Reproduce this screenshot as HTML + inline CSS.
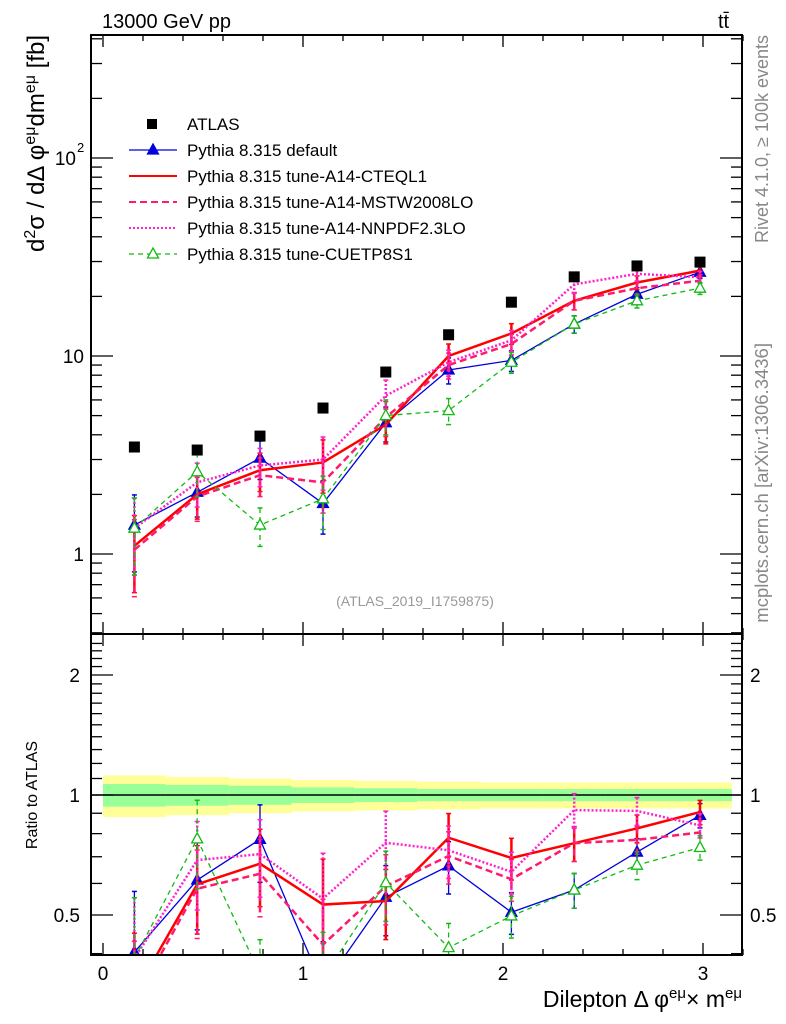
<!DOCTYPE html>
<html><head><meta charset="utf-8"><style>
html,body{margin:0;background:#fff;overflow:hidden;width:786px;height:1024px}
svg{display:block}
text{font-family:"Liberation Sans",sans-serif}
</style></head><body>
<svg id="c" width="786" height="1024" xmlns="http://www.w3.org/2000/svg"></svg>
<script>
const binCenters=[0.157,0.471,0.785,1.100,1.414,1.728,2.042,2.356,2.670,2.985];
const atlas=[3.47,3.35,3.94,5.46,8.3,12.8,18.7,25.1,28.5,29.8];
const bandYellow=[0.12,0.11,0.1,0.09,0.085,0.08,0.075,0.075,0.075,0.075];
const bandGreen=[0.065,0.06,0.055,0.045,0.04,0.035,0.035,0.035,0.035,0.035];
const sDefault=[1.4,2.05,3.05,1.8,4.6,8.5,9.5,14.5,20.5,26.5];
const sCteq=[1.1,2.0,2.65,2.9,4.5,10.0,13.0,19.0,23.5,27.0];
const sMstw=[1.05,1.95,2.5,2.3,4.9,9.0,11.5,19.0,22.0,24.0];
const sNnpdf=[1.35,2.3,2.8,3.0,6.3,9.3,12.0,23.0,26.0,25.0];
const sCuetp=[1.35,2.6,1.4,1.9,5.0,5.3,9.3,14.5,19.0,22.0];
const relErr=[0.42,0.25,0.22,0.3,0.2,0.15,0.12,0.1,0.08,0.07];
const yTicksMain=[1,10,100];
const yTicksRatio=[0.5,1,2];
const xTicks=[0,1,2,3];

const svg=document.getElementById('c');
const NS='http://www.w3.org/2000/svg';
const L=91,R=742,T=35,M=634,B=955;
const X=v=>103+200*v;
const Y=v=>554-198*Math.log10(v);
const YR=v=>795-120*Math.log2(v);
function el(tag,attrs,parent){const e=document.createElementNS(NS,tag);for(const k in attrs)e.setAttribute(k,attrs[k]);(parent||svg).appendChild(e);return e;}
function txt(s,attrs,parent){const e=el('text',attrs,parent);e.textContent=s;return e;}

const defs=el('defs',{});
const c1=el('clipPath',{id:'cm'},defs);el('rect',{x:L,y:T,width:R-L,height:M-T},c1);
const c2=el('clipPath',{id:'cr'},defs);el('rect',{x:L,y:M,width:R-L,height:B-M},c2);

const gBand=el('g',{'clip-path':'url(#cr)'});


const bw=Math.PI/10;
binCenters.forEach((c,i)=>{
  const x0=X(i*bw),x1=X((i+1)*bw);
  const ry=el('rect',{x:x0,y:YR(1+bandYellow[i]),width:x1-x0+0.5,height:YR(1-bandYellow[i])-YR(1+bandYellow[i]),fill:'#ffff99'},gBand);
  
  
  const rg=el('rect',{x:x0,y:YR(1+bandGreen[i]),width:x1-x0+0.5,height:YR(1-bandGreen[i])-YR(1+bandGreen[i]),fill:'#99ff99'},gBand);
  
  
});
const one=el('line',{x1:L,x2:R,y1:YR(1),y2:YR(1),stroke:'#000','stroke-width':1.5});



const series=[
 {name:'default',vals:sDefault,col:'#0000dd',w:1.3,dash:'',mk:'tri-fill'},
 {name:'cteql1',vals:sCteq,col:'#ff0000',w:2.5,dash:'',mk:''},
 {name:'mstw2008lo',vals:sMstw,col:'#ff1a6e',w:2.5,dash:'7,4',mk:''},
 {name:'nnpdf23lo',vals:sNnpdf,col:'#ff22cc',w:2.5,dash:'2,2',mk:''},
 {name:'cuetp8s1',vals:sCuetp,col:'#11bb11',w:1.3,dash:'5,4',mk:'tri-open'}
];
function tri(g,x,y,col,fill){el('path',{d:`M${x},${y-6}L${x+5.5},${y+4}L${x-5.5},${y+4}Z`,fill:fill?col:'#fff',stroke:col,'stroke-width':1.3},g);}

function drawSeries(s,clip,ymap,ratio){
  const g=el('g',{'clip-path':`url(#${clip})`});
  
  
  const vals=s.vals.map((v,i)=>ratio?v/atlas[i]:v);
  vals.forEach((v,i)=>{
    const e=relErr[i];
    el('line',{x1:X(binCenters[i]),x2:X(binCenters[i]),y1:ymap(v*(1+e)),y2:ymap(v*(1-e)),stroke:s.col,'stroke-width':s.w>2?2.5:1.3,'stroke-dasharray':s.dash},g);
    [v*(1+e),v*(1-e)].forEach(yy=>el('line',{x1:X(binCenters[i])-2.5,x2:X(binCenters[i])+2.5,y1:ymap(yy),y2:ymap(yy),stroke:s.col,'stroke-width':1.5},g));
  });
  el('polyline',{points:vals.map((v,i)=>X(binCenters[i])+','+ymap(v)).join(' '),fill:'none',stroke:s.col,'stroke-width':s.w,'stroke-dasharray':s.dash},g);
  if(s.mk)vals.forEach((v,i)=>tri(g,X(binCenters[i]),ymap(v),s.col,s.mk==='tri-fill'));
}
series.forEach(s=>{drawSeries(s,'cm',Y,false);drawSeries(s,'cr',YR,true);});

const ga=el('g',{'clip-path':'url(#cm)'});


atlas.forEach((v,i)=>el('rect',{x:X(binCenters[i])-5.5,y:Y(v)-5.5,width:11,height:11,fill:'#000'},ga));

[[T,M],[M,B]].forEach(([a,b])=>{const f=el('rect',{x:L,y:a,width:R-L,height:b-a,fill:'none',stroke:'#000','stroke-width':2});
});

const gx=el('g',{stroke:'#000','stroke-width':1.3});

for(let v=0;v<=3.2001;v+=0.2){const maj=Math.abs(v-Math.round(v))<1e-6;const l=maj?12:6;
 [T,M].forEach(y0=>el('line',{x1:X(v),x2:X(v),y1:y0,y2:y0+l},gx));
 [M,B].forEach(y0=>el('line',{x1:X(v),x2:X(v),y1:y0,y2:y0-l},gx));}
xTicks.forEach(v=>{const t=txt(String(v),{x:X(v),y:980,'font-size':19,'text-anchor':'middle'});
});

const gy=el('g',{stroke:'#000','stroke-width':1.3});

for(let d=-1;d<=2;d++)for(let m=1;m<=9;m++){const v=m*Math.pow(10,d);const y=Y(v);if(y<T||y>M)continue;const l=m===1?22:11;
 el('line',{x1:L,x2:L+l,y1:y,y2:y},gy);el('line',{x1:R,x2:R-l,y1:y,y2:y},gy);}
const lab1=txt('1',{x:84,y:561,'font-size':19,'text-anchor':'end'});
const lab10=txt('10',{x:84,y:363,'font-size':19,'text-anchor':'end'});
const lab100=txt('10',{x:76,y:165,'font-size':19,'text-anchor':'end'});
txt('2',{x:77,y:152,'font-size':13});

for(let v=0.4;v<=2.5;v+=0.1){const y=YR(v);if(y<M||y>B)continue;const maj=[0.5,1,2].some(t=>Math.abs(t-v)<1e-6);const l=maj?22:11;
 el('line',{x1:L,x2:L+l,y1:y,y2:y,stroke:'#000','stroke-width':1.3});el('line',{x1:R,x2:R-l,y1:y,y2:y,stroke:'#000','stroke-width':1.3});}
yTicksRatio.forEach(v=>{const s=v===0.5?'0.5':String(v);
 const a=txt(s,{x:80,y:YR(v)+7,'font-size':19,'text-anchor':'end'});
 const b=txt(s,{x:750,y:YR(v)+7,'font-size':19});});

const t1=txt('13000 GeV pp',{x:102,y:28,'font-size':20});
const t2=txt('tt̄',{x:718,y:28,'font-size':20});
const t3=txt('(ATLAS_2019_I1759875)',{x:415,y:606,'font-size':14,fill:'#999','text-anchor':'middle'});
const t4=txt('Rivet 4.1.0, ≥ 100k events',{x:0,y:0,'font-size':18,fill:'#888','text-anchor':'end',transform:'translate(768,35) rotate(-90)'});
const t5=txt('mcplots.cern.ch [arXiv:1306.3436]',{x:0,y:0,'font-size':18.5,fill:'#888','text-anchor':'end',transform:'translate(768,343) rotate(-90)'});
const t6=el('text',{x:0,y:0,'font-size':24,'text-anchor':'end',transform:'translate(44,35) rotate(-90)'});
t6.innerHTML='d<tspan font-size="16" dy="-9">2</tspan><tspan dy="9">σ / dΔ φ</tspan><tspan font-size="16" dy="-9">eμ</tspan><tspan dy="9">dm</tspan><tspan font-size="16" dy="-9">eμ</tspan><tspan dy="9"> [fb]</tspan>';

const t7=txt('Ratio to ATLAS',{x:0,y:0,'font-size':16,'text-anchor':'middle',transform:'translate(37,795) rotate(-90)'});
const t8=el('text',{x:742,y:1007,'font-size':23,'text-anchor':'end'});
t8.innerHTML='Dilepton Δ φ<tspan font-size="15" dy="-9">eμ</tspan><tspan dy="9">× m</tspan><tspan font-size="15" dy="-9">eμ</tspan>';


const lg=el('g',{});
const labels=['ATLAS','Pythia 8.315 default','Pythia 8.315 tune-A14-CTEQL1','Pythia 8.315 tune-A14-MSTW2008LO','Pythia 8.315 tune-A14-NNPDF2.3LO','Pythia 8.315 tune-CUETP8S1'];
labels.forEach((s,i)=>{const y=124+26*i;
 const e=el('g',{},lg);
 if(i===0)el('rect',{x:147,y:y-5,width:10,height:10,fill:'#000'},e);
 else{const sr=series[i-1];el('line',{x1:129,x2:177,y1:y,y2:y,stroke:sr.col,'stroke-width':sr.w>2?2:1.3,'stroke-dasharray':sr.dash},e);
  if(sr.mk)tri(e,153,y,sr.col,sr.mk==='tri-fill');}
 txt(s,{x:187,y:y+6,'font-size':17},e);});
</script>
</body></html>
